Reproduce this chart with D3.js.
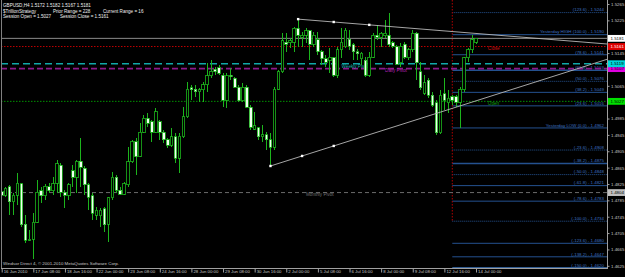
<!DOCTYPE html>
<html>
<head>
<meta charset="utf-8">
<script src="https://cdn.jsdelivr.net/npm/d3@7"></script>
<style>
    body { margin: 0; background: #000; }
    svg { display: block; }
    text { font-family: "Liberation Sans", Arial, sans-serif; }
</style>
</head>
<body>
<div id="chart"></div>
<script>
// GBPUSD H4 bars [open, high, low, close], 16 Jun 2010 00:00 -> 14 Jul 2010 00:00
const bars = [
    [1.4806, 1.4810, 1.4793, 1.4798], [1.4798, 1.4818, 1.4793, 1.4815], [1.4818, 1.4823, 1.4749, 1.4781],
    [1.4781, 1.4803, 1.4749, 1.4798], [1.4798, 1.4852, 1.4774, 1.4827], [1.4825, 1.4827, 1.4720, 1.4725],
    [1.4727, 1.4749, 1.4681, 1.4688], [1.4688, 1.4712, 1.4686, 1.4690], [1.4690, 1.4754, 1.4642, 1.4732],
    [1.4732, 1.4835, 1.4730, 1.4805], [1.4808, 1.4818, 1.4779, 1.4796], [1.4796, 1.4825, 1.4786, 1.4820],
    [1.4818, 1.4827, 1.4803, 1.4808], [1.4808, 1.4842, 1.4798, 1.4825], [1.4827, 1.4884, 1.4803, 1.4874],
    [1.4871, 1.4876, 1.4793, 1.4805], [1.4805, 1.4810, 1.4766, 1.4798], [1.4798, 1.4827, 1.4786, 1.4823],
    [1.4857, 1.4871, 1.4818, 1.4842], [1.4842, 1.4884, 1.4803, 1.4881], [1.4881, 1.4937, 1.4818, 1.4866],
    [1.4864, 1.4869, 1.4798, 1.4823], [1.4823, 1.4827, 1.4761, 1.4793], [1.4796, 1.4803, 1.4737, 1.4754],
    [1.4749, 1.4769, 1.4737, 1.4761], [1.4747, 1.4766, 1.4720, 1.4761], [1.4764, 1.4769, 1.4708, 1.4725],
    [1.4727, 1.4793, 1.4683, 1.4791], [1.4791, 1.4854, 1.4786, 1.4842], [1.4842, 1.4847, 1.4803, 1.4810],
    [1.4810, 1.4818, 1.4798, 1.4800], [1.4800, 1.4830, 1.4798, 1.4825], [1.4823, 1.4915, 1.4818, 1.4879],
    [1.4879, 1.4933, 1.4876, 1.4928], [1.4928, 1.4937, 1.4847, 1.4891], [1.4893, 1.4974, 1.4891, 1.4952],
    [1.4952, 1.4994, 1.4950, 1.4986], [1.4986, 1.4999, 1.4964, 1.4974], [1.4977, 1.4981, 1.4928, 1.4952],
    [1.4952, 1.5011, 1.4950, 1.5001], [1.4977, 1.4981, 1.4933, 1.4952], [1.4952, 1.4957, 1.4925, 1.4933],
    [1.4933, 1.4937, 1.4913, 1.4920], [1.4920, 1.4962, 1.4915, 1.4940], [1.4940, 1.4950, 1.4876, 1.4888],
    [1.4888, 1.4950, 1.4852, 1.4942], [1.4940, 1.5013, 1.4937, 1.4989], [1.4989, 1.5074, 1.4986, 1.5057],
    [1.5060, 1.5067, 1.5030, 1.5055], [1.5057, 1.5067, 1.5038, 1.5050], [1.5050, 1.5060, 1.5025, 1.5055],
    [1.5055, 1.5074, 1.5025, 1.5067], [1.5067, 1.5121, 1.5050, 1.5089], [1.5089, 1.5128, 1.5084, 1.5101],
    [1.5106, 1.5111, 1.5091, 1.5099], [1.5109, 1.5116, 1.5091, 1.5096], [1.5091, 1.5096, 1.5013, 1.5030],
    [1.5030, 1.5096, 1.5011, 1.5089], [1.5091, 1.5109, 1.5079, 1.5087], [1.5084, 1.5087, 1.5060, 1.5062],
    [1.5062, 1.5067, 1.5025, 1.5028], [1.5028, 1.5072, 1.5025, 1.5062], [1.5062, 1.5067, 1.5011, 1.5013],
    [1.5013, 1.5018, 1.4957, 1.4964], [1.4959, 1.5001, 1.4957, 1.4967], [1.4962, 1.4964, 1.4933, 1.4940],
    [1.4940, 1.4969, 1.4928, 1.4945], [1.4945, 1.4952, 1.4908, 1.4933], [1.4933, 1.4950, 1.4869, 1.4915],
    [1.4915, 1.5062, 1.4908, 1.5057], [1.5057, 1.5104, 1.5055, 1.5099], [1.5099, 1.5194, 1.5096, 1.5175],
    [1.5172, 1.5194, 1.5148, 1.5167], [1.5170, 1.5182, 1.5157, 1.5175], [1.5172, 1.5209, 1.5148, 1.5206],
    [1.5206, 1.5228, 1.5160, 1.5189], [1.5184, 1.5197, 1.5160, 1.5189], [1.5189, 1.5206, 1.5170, 1.5199],
    [1.5199, 1.5201, 1.5128, 1.5167], [1.5167, 1.5197, 1.5160, 1.5189], [1.5177, 1.5197, 1.5140, 1.5148],
    [1.5148, 1.5153, 1.5116, 1.5131], [1.5131, 1.5140, 1.5111, 1.5123], [1.5128, 1.5157, 1.5096, 1.5135],
    [1.5133, 1.5135, 1.5087, 1.5091], [1.5091, 1.5160, 1.5084, 1.5153], [1.5153, 1.5206, 1.5133, 1.5172],
    [1.5160, 1.5206, 1.5157, 1.5201], [1.5179, 1.5201, 1.5153, 1.5162], [1.5165, 1.5170, 1.5128, 1.5148],
    [1.5148, 1.5155, 1.5128, 1.5143], [1.5131, 1.5148, 1.5116, 1.5145], [1.5128, 1.5135, 1.5087, 1.5091],
    [1.5091, 1.5148, 1.5087, 1.5135], [1.5135, 1.5194, 1.5133, 1.5189], [1.5189, 1.5214, 1.5177, 1.5184],
    [1.5184, 1.5197, 1.5160, 1.5194], [1.5187, 1.5226, 1.5182, 1.5194], [1.5189, 1.5243, 1.5160, 1.5165],
    [1.5170, 1.5175, 1.5157, 1.5162], [1.5160, 1.5165, 1.5116, 1.5118], [1.5121, 1.5170, 1.5111, 1.5162],
    [1.5167, 1.5172, 1.5131, 1.5135], [1.5133, 1.5157, 1.5128, 1.5153], [1.5153, 1.5201, 1.5148, 1.5194],
    [1.5194, 1.5197, 1.5079, 1.5121], [1.5099, 1.5123, 1.5055, 1.5060], [1.5047, 1.5091, 1.5042, 1.5072],
    [1.5079, 1.5084, 1.5035, 1.5042], [1.5042, 1.5050, 1.5013, 1.5018], [1.5023, 1.5030, 1.4945, 1.4950],
    [1.4950, 1.5055, 1.4947, 1.5042], [1.5045, 1.5084, 1.5006, 1.5030], [1.5023, 1.5055, 1.4999, 1.5035],
    [1.5038, 1.5042, 1.5018, 1.5030], [1.5038, 1.5042, 1.5013, 1.5025], [1.5025, 1.5062, 1.4962, 1.5057],
    [1.5055, 1.5135, 1.5050, 1.5133], [1.5133, 1.5157, 1.5123, 1.5153], [1.5153, 1.5190, 1.5145, 1.5177],
    [1.5172, 1.5182, 1.5167, 1.5181]
];

// one label every 8 bars
const timeLabels = ["16 Jun 2010", "17 Jun 08:00", "18 Jun 16:00", "22 Jun 00:00", "23 Jun 08:00",
    "24 Jun 16:00", "28 Jun 00:00", "29 Jun 08:00", "30 Jun 16:00", "2 Jul 00:00", "5 Jul 08:00",
    "6 Jul 16:00", "8 Jul 00:00", "9 Jul 08:00", "12 Jul 16:00", "14 Jul 00:00"];

const priceTicks = [1.5265, 1.5225, 1.5185, 1.5145, 1.5105, 1.5065, 1.5025, 1.4985, 1.4945,
    1.4905, 1.4865, 1.4825, 1.4785, 1.4745, 1.4705, 1.4665, 1.4625];

const fibNames = ["(123.6)", "Yesterday HIGH (100.0)", "(78.6)", "(61.8)", "(50.0)", "(38.2)", "(23.6)",
    "Yesterday LOW (0.0)", "(-23.6)", "(-38.2)", "(-50.0)", "(-61.8)", "(-78.6)", "(-100.0)",
    "(-123.6)", "(-138.2)", "(-150.0)"];
const fibPrices = [1.5244, 1.5190, 1.5141, 1.5103, 1.5076, 1.5049, 1.5016, 1.4962, 1.4908, 1.4875,
    1.4848, 1.4821, 1.4783, 1.4734, 1.4680, 1.4647, 1.4620];

const pivotNames = ["Weekly Pivot", "Daily Pivot", "Monthly Pivot"];
const pivotPrices = [1.5119, 1.5107, 1.4804];
const sessionNames = ["Close", "Open"];
const sessionPrices = [1.5161, 1.5027];
const bidPrice = 1.5181;
const yesterdayStart = 114;

// triangle: [bar, price] anchors and marker bars
const upperTrend = [[75, 1.5228], [93, 1.5214]];
const lowerTrend = [[68, 1.4869], [84, 1.4918]];
const upperDots = [75, 84, 93];
const lowerDots = [68, 76, 84];

const headerRows = [
    ["GBPUSD,H4  1.5172 1.5182 1.5167 1.5181"],
    ["$TrillionStrategy", "Prior Range = 228", "Current Range = 16"],
    ["Session Open = 1.5027", "Session Close = 1.5161"]
];
const copyright = "Windsor Direct 4, \u00a9 2001-2010 MetaQuotes Software Corp.";

const WIDTH = 625,
    HEIGHT = 277;
const plotRight = 607,
    plotBottom = 268;

const svg = d3.select("#chart")
    .append("svg")
    .attr("width", WIDTH)
    .attr("height", HEIGHT);

svg.append("rect")
    .attr("width", WIDTH)
    .attr("height", HEIGHT)
    .attr("fill", "#000");

svg.append("clipPath")
    .attr("id", "plot")
    .append("rect")
    .attr("x", 1)
    .attr("y", 0)
    .attr("width", plotRight - 1)
    .attr("height", plotBottom);

const xScale = d3.scaleLinear()
    .domain([0, bars.length - 1])
    .range([1.7, 476]);

const yScale = d3.scaleLinear()
    .domain([1.5265, 1.4625])
    .range([4, 265.8]);

const plot = svg.append("g").attr("clip-path", "url(#plot)");
const fmt = d3.format(".4f");

// fibonacci levels of yesterday's range
const fibX = xScale(yesterdayStart);
const dottedFibs = [0, 4, 8, 10, 13];
const boldFibs = [3, 9];

plot.append("g")
    .selectAll("line")
    .data(fibPrices)
    .join("line")
    .attr("x1", fibX)
    .attr("x2", plotRight)
    .attr("y1", d => yScale(d))
    .attr("y2", d => yScale(d))
    .attr("stroke", (d, i) => i == fibPrices.length - 1 ? "#4d8fe0" : "#24518f")
    .attr("stroke-width", (d, i) => boldFibs.includes(i) ? 1.6 : 1)
    .attr("stroke-dasharray", (d, i) => dottedFibs.includes(i) ? "1,1" : null);

plot.append("g")
    .selectAll("text")
    .data(fibPrices)
    .join("text")
    .attr("x", plotRight - 3)
    .attr("y", d => yScale(d) - 1.2)
    .attr("text-anchor", "end")
    .attr("font-size", 4.4)
    .attr("fill", "#3f72c0")
    .text((d, i) => `${fibNames[i]} - ${fmt(d)}`);

// start of yesterday
plot.append("line")
    .attr("x1", fibX)
    .attr("x2", fibX)
    .attr("y1", 0)
    .attr("y2", yScale(fibPrices[13]))
    .attr("stroke", "#b00000")
    .attr("stroke-dasharray", "1.5,1.5");

// horizontal levels
const levels = [
    { price: bidPrice, color: "#8a8a8a", width: 1, dash: null },
    { price: sessionPrices[0], color: "#c00000", width: 1, dash: "1.5,1.5" },
    { price: pivotPrices[0], color: "#10a8a8", width: 1.6, dash: "7,4" },
    { price: pivotPrices[1], color: "#8a1a8a", width: 1.8, dash: "6,3" },
    { price: sessionPrices[1], color: "#009000", width: 1, dash: "1.5,1.5" },
    { price: pivotPrices[2], color: "#6a6a6a", width: 1, dash: "4,3" }
];

plot.append("g")
    .selectAll("line")
    .data(levels)
    .join("line")
    .attr("x1", 1)
    .attr("x2", plotRight)
    .attr("y1", d => yScale(d.price))
    .attr("y2", d => yScale(d.price))
    .attr("stroke", d => d.color)
    .attr("stroke-width", d => d.width)
    .attr("stroke-dasharray", d => d.dash);

// level captions
const captions = [
    { text: pivotNames[0], price: pivotPrices[0], bar: 86, color: "#1ab0b0" },
    { text: pivotNames[1], price: pivotPrices[1], bar: 97, color: "#b020b0" },
    { text: pivotNames[2], price: pivotPrices[2], bar: 77, color: "#707070" },
    { text: sessionNames[0], price: sessionPrices[0], bar: 123, color: "#d01010" },
    { text: sessionNames[1], price: sessionPrices[1], bar: 123, color: "#10a010" }
];

plot.append("g")
    .selectAll("text")
    .data(captions)
    .join("text")
    .attr("x", d => xScale(d.bar))
    .attr("y", d => yScale(d.price) + 3.8)
    .attr("font-size", 4.6)
    .attr("fill", d => d.color)
    .text(d => d.text);

// candles
const candles = plot.append("g")
    .attr("shape-rendering", "crispEdges")
    .selectAll("g")
    .data(bars)
    .join("g")
    .attr("transform", (d, i) => `translate(${xScale(i)},0)`);

candles.append("line")
    .attr("y1", d => yScale(d[1]))
    .attr("y2", d => yScale(d[2]))
    .attr("stroke", "#1cb41c");

candles.append("rect")
    .attr("x", -1.3)
    .attr("width", 2.6)
    .attr("y", d => yScale(Math.max(d[0], d[3])))
    .attr("height", d => Math.max(0.6, Math.abs(yScale(d[0]) - yScale(d[3]))))
    .attr("fill", d => d[3] >= d[0] ? "#000" : "#f0fff0")
    .attr("stroke", "#1cb41c")
    .attr("stroke-width", 0.8);

// triangle trendlines, extended to the price axis
const drawTrend = (anchors, dots) => {
    const [a, b] = anchors.map(([bar, price]) => [xScale(bar), yScale(price)]);
    const slope = (b[1] - a[1]) / (b[0] - a[0]);
    plot.append("line")
        .attr("x1", a[0])
        .attr("y1", a[1])
        .attr("x2", plotRight)
        .attr("y2", a[1] + slope * (plotRight - a[0]))
        .attr("stroke", "#b8b8b8")
        .attr("stroke-width", 0.9);

    plot.append("g")
        .selectAll("rect")
        .data(dots)
        .join("rect")
        .attr("x", d => xScale(d) - 1.2)
        .attr("y", d => a[1] + slope * (xScale(d) - a[0]) - 1.2)
        .attr("width", 2.4)
        .attr("height", 2.4)
        .attr("fill", "#fff");
};
drawTrend(upperTrend, upperDots);
drawTrend(lowerTrend, lowerDots);

// frame
svg.append("line")
    .attr("x1", 1.5).attr("x2", 1.5)
    .attr("y1", 0).attr("y2", plotBottom)
    .attr("stroke", "#808080");

svg.append("line")
    .attr("x1", 1).attr("x2", plotRight)
    .attr("y1", plotBottom + 0.5).attr("y2", plotBottom + 0.5)
    .attr("stroke", "#a0a0a0");

svg.append("line")
    .attr("x1", plotRight + 0.5).attr("x2", plotRight + 0.5)
    .attr("y1", 0).attr("y2", plotBottom + 1)
    .attr("stroke", "#a0a0a0");

// price axis
const axisPrice = d3.axisRight(yScale)
    .tickValues(priceTicks)
    .tickFormat(fmt)
    .tickSize(2)
    .tickPadding(1.5);

const priceAxis = svg.append("g")
    .attr("transform", `translate(${plotRight + 0.5},0)`)
    .call(axisPrice);
priceAxis.select(".domain").remove();
priceAxis.selectAll(".tick line").attr("stroke", "#a0a0a0");
priceAxis.selectAll(".tick text")
    .attr("font-size", 4.4)
    .attr("font-family", "Liberation Sans, Arial, sans-serif")
    .attr("fill", "#c8c8c8");

// coloured price tags
const tags = [
    { price: pivotPrices[2], bg: "#c0c0c0", fg: "#000" },
    { price: sessionPrices[1], bg: "#00e000", fg: "#000" },
    { price: pivotPrices[1], bg: "#e000e0", fg: "#000" },
    { price: pivotPrices[0], bg: "#00d8d8", fg: "#000" },
    { price: sessionPrices[0], bg: "#e00000", fg: "#fff" },
    { price: bidPrice, bg: "#ffffff", fg: "#000" }
];

const tagGroups = svg.append("g")
    .selectAll("g")
    .data(tags)
    .join("g")
    .attr("transform", d => `translate(${plotRight + 1},${yScale(d.price)})`);

tagGroups.append("rect")
    .attr("x", 0)
    .attr("y", -3.4)
    .attr("width", 17)
    .attr("height", 6.8)
    .attr("fill", d => d.bg);

tagGroups.append("text")
    .attr("x", 2.5)
    .attr("y", 0)
    .attr("dy", "0.35em")
    .attr("font-size", 4.4)
    .attr("fill", d => d.fg)
    .text(d => fmt(d.price));

// time axis
const axisTime = d3.axisBottom(xScale)
    .tickValues(timeLabels.map((_, i) => i * 8))
    .tickFormat((d, i) => timeLabels[i])
    .tickSize(4);

const timeAxis = svg.append("g")
    .attr("transform", `translate(0,${plotBottom + 0.5})`)
    .call(axisTime);
timeAxis.select(".domain").remove();
timeAxis.selectAll(".tick line").attr("stroke", "#a0a0a0");
timeAxis.selectAll(".tick text")
    .attr("x", 1.5)
    .attr("y", 1.8)
    .attr("text-anchor", "start")
    .attr("font-size", 4.3)
    .attr("font-family", "Liberation Sans, Arial, sans-serif")
    .attr("fill", "#c8c8c8");

// header and footer text
const headerX = [[3], [3, 53, 103], [3, 60]];
headerRows.forEach((row, r) => {
    svg.append("g")
        .selectAll("text")
        .data(row)
        .join("text")
        .attr("x", (d, i) => headerX[r][i])
        .attr("y", 5.5 + r * 5.5)
        .attr("dy", "0.35em")
        .attr("font-size", 4.6)
        .attr("fill", "#f0f0f0")
        .text(d => d);
});

svg.append("text")
    .attr("x", 3)
    .attr("y", 263.5)
    .attr("dy", "0.35em")
    .attr("font-size", 4.4)
    .attr("fill", "#c8c8c8")
    .text(copyright);
</script>
</body>
</html>
